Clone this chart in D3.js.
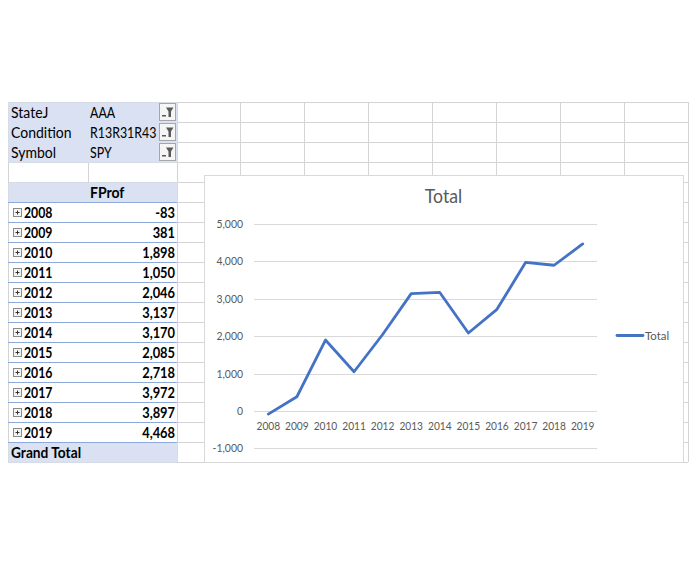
<!DOCTYPE html>
<html>
<head>
<meta charset="utf-8">
<script src="https://cdn.jsdelivr.net/npm/d3@7"></script>
<style>
  html, body { margin: 0; padding: 0; background: #fff; }
  svg { display: block; }
  text { font-family: Lato, Carlito, Calibri, "Liberation Sans", sans-serif; }
  .cell { font-size: 14.6px; fill: #000; }
  .bold { font-weight: bold; }
  .axis-label { font-size: 12px; fill: #595959; }
  .chart-title { font-size: 18.6px; fill: #595959; }
</style>
</head>
<body>
<svg id="sheet" width="696" height="564"></svg>
<script>
// pivot filters
const filterFields = ["StateJ", "Condition", "Symbol"];
const filterValues = ["AAA", "R13R31R43", "SPY"];

// pivot rows / series
const years = ["2008", "2009", "2010", "2011", "2012", "2013", "2014", "2015", "2016", "2017", "2018", "2019"];
const fprof = [-83, 381, 1898, 1050, 2046, 3137, 3170, 2085, 2718, 3972, 3897, 4468];

const yTicks = [-1000, 0, 1000, 2000, 3000, 4000, 5000];
const seriesName = "Total";

const locale = d3.formatLocale({ decimal: ".", thousands: ",", grouping: [3], currency: ["$", ""], minus: "-" });
const fmt = locale.format(",");

const GRID = "#d4d4d4";
const PIVOT_FILL = "#d9e1f2";
const PIVOT_LINE = "#8ea9db";
const LINE_BLUE = "#4472c4";

// Lato is a bit wider than Calibri (esp. digits), so squeeze text horizontally
function label(parent, cls, x, y, txt, anchor = "start", sx = 1) {
  return parent.append("text").attr("class", cls)
    .attr("transform", `translate(${x},${y}) scale(${sx},1)`)
    .attr("text-anchor", anchor).text(txt);
}

const svg = d3.select("#sheet");
svg.append("rect").attr("width", 696).attr("height", 564).attr("fill", "#fff");

// spreadsheet grid
const colEdges = [8, 88, 177, 240, 304, 368, 432, 496, 560, 624, 688];
const sheetTop = 102;
const rowH = 20;
const rowCount = 18;
const sheetBottom = sheetTop + rowCount * rowH;
const gridG = svg.append("g");
colEdges.forEach((cx) => {
  gridG.append("line").attr("x1", cx + 0.5).attr("x2", cx + 0.5)
    .attr("y1", sheetTop).attr("y2", sheetBottom).attr("stroke", GRID);
});
d3.range(rowCount + 1).forEach((i) => {
  const ry = sheetTop + i * rowH + 0.5;
  gridG.append("line").attr("x1", colEdges[0]).attr("x2", colEdges[colEdges.length - 1])
    .attr("y1", ry).attr("y2", ry).attr("stroke", GRID);
});

// pivot table
const tL = colEdges[0], tR = colEdges[2];
const rowTop = (i) => sheetTop + i * rowH;
const pivot = svg.append("g");

// filter area
pivot.append("rect").attr("x", tL + 0.5).attr("y", rowTop(0) + 0.5)
  .attr("width", tR - tL).attr("height", rowH * 3).attr("fill", PIVOT_FILL);

filterFields.forEach((f, i) => {
  const ty = rowTop(i);
  label(pivot, "cell", 11, ty + 15.5, f, "start", 0.96);
  label(pivot, "cell", 90, ty + 15.5, filterValues[i], "start", 0.85);
  const b = pivot.append("g").attr("transform", `translate(159.5,${ty + 1.5})`);
  b.append("rect").attr("width", 16).attr("height", 17).attr("fill", "#f5f5f5")
    .attr("stroke", "#a6a6a6");
  b.append("path").attr("d", "M6.5,4 L14,4 L11.5,8 L11.5,13.5 L9,13.5 L9,8 Z").attr("fill", "#595959");
  b.append("rect").attr("x", 2.5).attr("y", 11.5).attr("width", 4).attr("height", 1.5).attr("fill", "#595959");
});

// header row
pivot.append("rect").attr("x", tL + 0.5).attr("y", rowTop(4) + 0.5)
  .attr("width", tR - tL).attr("height", rowH).attr("fill", PIVOT_FILL);
label(pivot, "cell bold", 90, rowTop(4) + 15.5, "FProf", "start", 0.96);

// data rows
years.forEach((yr, i) => {
  const ty = rowTop(5 + i);
  pivot.append("rect").attr("x", tL + 1).attr("y", ty + 1)
    .attr("width", tR - tL - 1).attr("height", rowH - 1).attr("fill", "#fff");
  pivot.append("line").attr("x1", tL).attr("x2", tR)
    .attr("y1", ty + 0.5).attr("y2", ty + 0.5).attr("stroke", PIVOT_LINE);
  const e = pivot.append("g").attr("transform", `translate(13.5,${ty + 6.5})`);
  e.append("rect").attr("width", 8).attr("height", 8).attr("fill", "#f5f5f5").attr("stroke", "#8a8a8a");
  e.append("line").attr("x1", 2).attr("x2", 6).attr("y1", 4).attr("y2", 4).attr("stroke", "#333");
  e.append("line").attr("x1", 4).attr("x2", 4).attr("y1", 2).attr("y2", 6).attr("stroke", "#333");
  label(pivot, "cell bold", 24, ty + 15.5, yr, "start", 0.84);
  label(pivot, "cell bold", 175, ty + 15.5, fmt(fprof[i]), "end", 0.88);
});

// grand total row
const gtTop = rowTop(5 + years.length);
pivot.append("rect").attr("x", tL + 0.5).attr("y", gtTop + 0.5)
  .attr("width", tR - tL).attr("height", rowH).attr("fill", PIVOT_FILL);
pivot.append("line").attr("x1", tL).attr("x2", tR)
  .attr("y1", gtTop + 0.5).attr("y2", gtTop + 0.5).attr("stroke", PIVOT_LINE);
label(pivot, "cell bold", 11, gtTop + 15.5, "Grand Total", "start", 0.94);

// chart object
const chartBox = { x: 204.5, y: 175.5, w: 479, h: 287 };
const chart = svg.append("g");
chart.append("rect").attr("x", chartBox.x).attr("y", chartBox.y)
  .attr("width", chartBox.w).attr("height", chartBox.h)
  .attr("fill", "#fff").attr("stroke", "#d9d9d9");

label(chart, "chart-title", 443.5, 203, seriesName, "middle", 0.95);

const x = d3.scaleBand().domain(years).range([254, 597]);
const y = d3.scaleLinear().domain([-1000, 5000]).range([448.4, 224]);

chart.append("g").selectAll("line").data(yTicks).join("line")
  .attr("x1", x.range()[0]).attr("x2", x.range()[1])
  .attr("y1", (d) => Math.round(y(d)) + 0.5).attr("y2", (d) => Math.round(y(d)) + 0.5)
  .attr("stroke", "#d9d9d9");

const yLab = chart.append("g");
yTicks.forEach((d) => label(yLab, "axis-label", 243, y(d) + 4, fmt(d), "end", 0.87));

const xLab = chart.append("g");
years.forEach((d) => label(xLab, "axis-label", x(d) + x.bandwidth() / 2, 430, d, "middle", 0.85));

const line = d3.line()
  .x((d) => x(d.year) + x.bandwidth() / 2)
  .y((d) => y(d.value));

chart.append("path")
  .datum(years.map((yr, i) => ({ year: yr, value: fprof[i] })))
  .attr("d", line)
  .attr("fill", "none").attr("stroke", LINE_BLUE)
  .attr("stroke-width", 2.8).attr("stroke-linejoin", "round").attr("stroke-linecap", "round");

// legend
chart.append("line").attr("x1", 617).attr("x2", 643).attr("y1", 335.5).attr("y2", 335.5)
  .attr("stroke", LINE_BLUE).attr("stroke-width", 2.8).attr("stroke-linecap", "round");
label(chart, "axis-label", 645, 339.5, seriesName, "start", 0.95);
</script>
</body>
</html>
